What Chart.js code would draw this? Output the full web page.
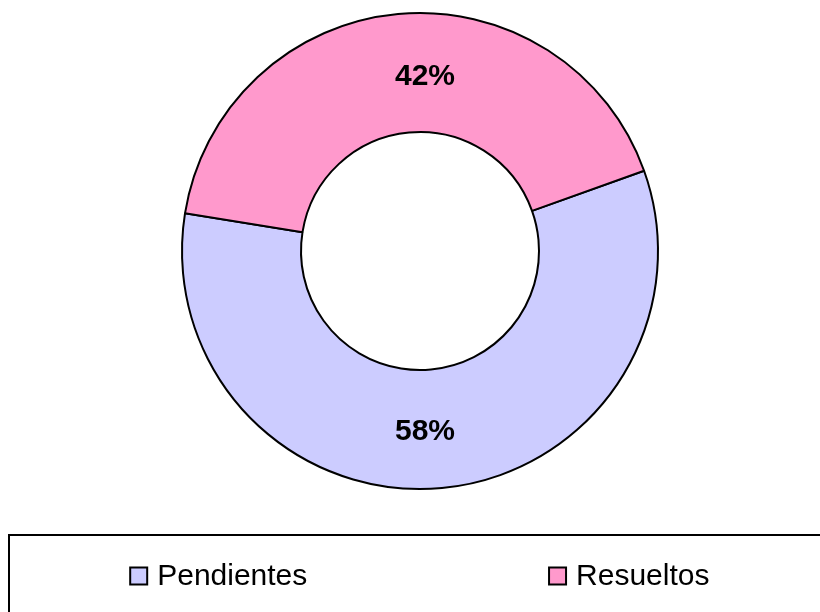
<!DOCTYPE html>
<html>
<head>
<meta charset="utf-8">
<script src="https://cdn.jsdelivr.net/npm/chart.js@4/dist/chart.umd.min.js"></script>
<style>
  html, body { margin: 0; padding: 0; background: #fff; }
  #wrap { width: 820px; height: 612px; position: relative; }
</style>
</head>
<body>
<div id="wrap"><canvas id="c" width="820" height="612"></canvas></div>
<script>
const categories = ["Pendientes", "Resueltos"];
const values = [58, 42];
const valueLabels = ["58%", "42%"];
const colors = ["#CCCCFF", "#FF99CC"];

const FONT = "'Liberation Sans', Arial, Helvetica, sans-serif";

const pctLabels = {
  id: 'pctLabels',
  afterDatasetsDraw(chart) {
    const ctx = chart.ctx;
    const meta = chart.getDatasetMeta(0);
    ctx.save();
    ctx.font = "bold 30px " + FONT;
    ctx.fillStyle = "#000";
    ctx.textAlign = "center";
    ctx.textBaseline = "middle";
    meta.data.forEach((arc, i) => {
      const p = arc.tooltipPosition();
      ctx.fillText(valueLabels[i], arc.x + 5, p.y + 3);
    });
    ctx.restore();
  }
};

const boxLegend = {
  id: 'boxLegend',
  afterDraw(chart) {
    const ctx = chart.ctx;
    const left = 9, top = 534, right = 840, bottom = 640;
    ctx.save();
    ctx.lineWidth = 2;
    ctx.strokeStyle = "#000";
    ctx.strokeRect(left, top + 1, right - left, bottom - top);
    ctx.font = "30px " + FONT;
    ctx.textBaseline = "middle";
    ctx.textAlign = "left";
    const n = categories.length;
    const colW = (right - left) / n;
    const sq = 17, gap = 10, cy = 576;
    categories.forEach((lab, i) => {
      const tw = ctx.measureText(lab).width;
      const total = sq + gap + tw;
      const cx = left + (i + 0.5) * colW;
      const x0 = cx - total / 2 + (i === 0 ? 2 : -3);
      ctx.fillStyle = colors[i];
      ctx.fillRect(x0, cy - sq / 2, sq, sq);
      ctx.lineWidth = 2;
      ctx.strokeStyle = "#000";
      ctx.strokeRect(x0, cy - sq / 2, sq, sq);
      ctx.fillStyle = "#000";
      ctx.fillText(lab, x0 + sq + gap, cy + 1);
    });
    ctx.restore();
  }
};

new Chart(document.getElementById('c'), {
  type: 'doughnut',
  data: {
    labels: categories,
    datasets: [{
      data: values,
      backgroundColor: colors,
      borderColor: "#000",
      borderWidth: 2
    }]
  },
  options: {
    responsive: false,
    animation: false,
    devicePixelRatio: 1,
    rotation: 70.3,
    cutout: '50%',
    layout: { padding: { top: 12, bottom: 122, left: 20, right: 0 } },
    plugins: {
      legend: { display: false },
      tooltip: { enabled: false }
    }
  },
  plugins: [pctLabels, boxLegend]
});
</script>
</body>
</html>
